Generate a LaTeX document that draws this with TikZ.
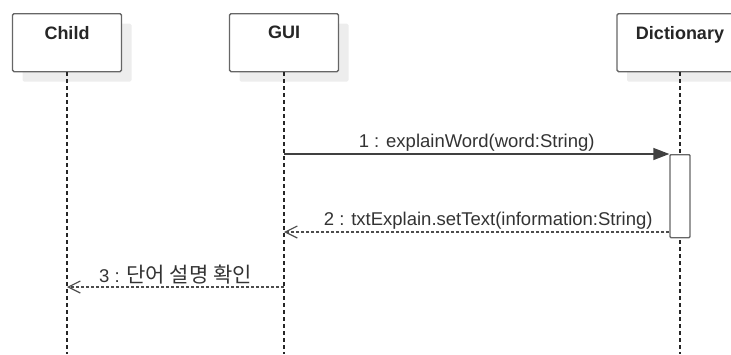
\documentclass[tikz,border=0pt]{standalone}
\usepackage{fontspec}
\setmainfont{Liberation Sans}
\newfontfamily\krfont{Noto Sans CJK KR}
\usetikzlibrary{positioning,arrows.meta,shadows}

\begin{document}
\begin{tikzpicture}%
  [x=1pt,y=-1pt,
   objname/.style=
    {anchor=north,yshift=-13pt,inner sep=0pt,text=black!85,
     font=\fontsize{18}{21}\selectfont\bfseries},
   object/.style=
    {draw=black!60,line width=1.3pt,fill=white,rounded corners=1.5pt,
     minimum width=109pt,minimum height=58pt,anchor=north,
     drop shadow={shadow xshift=10pt,shadow yshift=-10pt,
       fill=black!7,draw=none,opacity=1},
     label={[objname]north:#1}},
   activation/.style=
    {draw=black!60,line width=1.3pt,fill=white,rounded corners=1pt,
     minimum width=20pt,minimum height=83pt,inner sep=0pt,anchor=north},
   lifeline/.style={black!85,line width=1.2pt,dash pattern=on 4pt off 3pt},
   call/.style={black!75,line width=1.3pt,-{Triangle[length=16pt,width=12pt]}},
   reply/.style=
    {black!70,line width=1.2pt,dash pattern=on 3pt off 2pt,
     -{Straight Barb[length=12pt,width=12pt,line width=1.2pt]}},
   msg/.style=
    {above,inner sep=2pt,text=black!80,font=\fontsize{18.5}{22}\selectfont}
  ]
  \useasboundingbox (0,0) rectangle (731,354);
  \coordinate (bottom) at (0,354);
  \coordinate (m1) at (0,154);
  \coordinate (m2) at (0,232);
  \coordinate (m3) at (0,287);
  \node[object=Child] (child) at (67,13) {};
  \node[object=GUI] (gui) at (284,13) {};
  \node[object=Dictionary,minimum width=126pt] (dict) at (680,13) {};
  \draw[lifeline] (child.south) -- (child |- bottom);
  \draw[lifeline] (gui.south) -- (gui |- bottom);
  \draw[lifeline] (dict.south) -- (dict |- bottom);
  \node[activation] (act) at (dict |- m1) {};
  \draw[call] (gui |- m1) -- (act.north west)
    node[msg,midway] {1 : explainWord(word:String)};
  \draw[reply] (act.west |- m2) -- (gui |- m2)
    node[msg,pos=0.47] {2 : txtExplain.setText(information:String)};
  \draw[reply] (gui |- m3) -- (child |- m3)
    node[msg,midway] {3 : {\krfont\fontsize{21}{24}\selectfont 단어 설명 확인}};
\end{tikzpicture}
\end{document}
